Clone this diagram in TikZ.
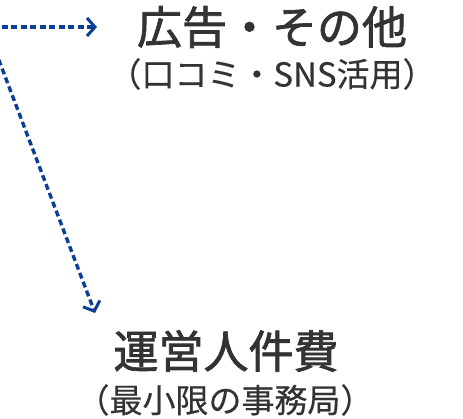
\documentclass[tikz,border=0pt]{standalone}
\usepackage{fontspec}
\setmainfont{Noto Sans CJK JP}
\newfontfamily\medfont[FakeBold=1.6]{Noto Sans CJK JP}
\newfontfamily\subfont[FakeBold=0.4]{Noto Sans CJK JP}
\usetikzlibrary{arrows.meta}
\definecolor{txt}{HTML}{333333}
\definecolor{arr}{HTML}{0B3F95}
\tikzset{
  title/.style={text=txt, font=\fontsize{45}{50}\medfont, inner sep=0pt, anchor=center},
  sub/.style={text=txt, font=\fontsize{33}{37}\subfont, inner sep=0pt, anchor=center},
  dasharrow/.style={draw=arr, line width=3.4pt, dash pattern=on 6pt off 3.5pt,
    -{Straight Barb[length=8pt,width=18pt,line width=3pt,line join=miter]}}
}
\begin{document}
\begin{tikzpicture}[x=1pt,y=-1pt]
\useasboundingbox (0,0) rectangle (463,418);
\node[title] (ad) at (272,27) {広告・その他};
\node[sub] (adsub) at (272,74) {（口コミ・SNS活用）};
\node[title] (staff) at (226,351) {運営人件費};
\node[sub] (staffsub) at (225,400) {（最小限の事務局）};
\coordinate (s1) at (-8,27);
\coordinate (e1) at (97,27);
\coordinate (s2) at (-8,42);
\coordinate (e2) at (95,313);
\draw[dasharrow] (s1) -- (e1);
\draw[dasharrow] (s2) -- (e2);
\end{tikzpicture}
\end{document}
